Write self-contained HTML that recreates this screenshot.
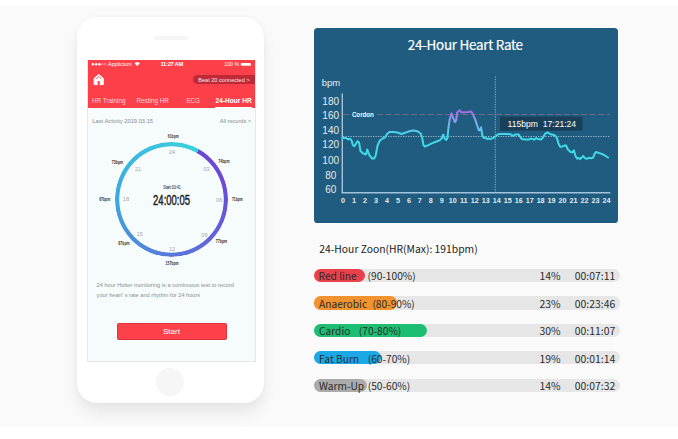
<!DOCTYPE html>
<html><head><meta charset="utf-8">
<style>
*{margin:0;padding:0;box-sizing:border-box}
html,body{width:678px;height:439px;overflow:hidden;background:#fff}
body{position:relative;font-family:"Liberation Sans",Arial,sans-serif}
.abs{position:absolute}
#bg{position:absolute;left:0;top:6px;width:678px;height:421.2px;background:#fafafa}
#phone{position:absolute;left:76.5px;top:17px;width:187.5px;height:385.5px;border-radius:20px;background:#fff;box-shadow:0 10px 15px rgba(0,0,0,0.08),0 0 5px rgba(0,0,0,0.035)}
#speaker{position:absolute;left:154px;top:36px;width:34px;height:3.8px;border-radius:1.9px;background:#f5f5f5}
#homebtn{position:absolute;left:156px;top:367.5px;width:28px;height:28px;border-radius:50%;background:#f6f6f6}
#screen{position:absolute;left:87.3px;top:60px;width:168.4px;height:301.6px;background:#f6fbfc;border:0.7px solid #e5e8ea;border-top:none}
#hdr{position:absolute;left:87.5px;top:60px;width:167.5px;height:48.3px;background:#fd3f49}
.sb{position:absolute;font-size:5.6px;color:#fff;line-height:6px;white-space:nowrap}
.tab{position:absolute;top:96.6px;font-size:6.35px;line-height:7px;white-space:nowrap;color:rgba(255,255,255,0.78)}
#chart{position:absolute;left:314px;top:28px;width:304px;height:194.5px;border-radius:3.6px;background:#1f5c7f}
.zt{position:absolute;font-family:"Liberation Sans","Noto Sans CJK SC",sans-serif;color:#333;white-space:nowrap}
.track{position:absolute;left:314.4px;width:305.3px;height:13.2px;border-radius:6.6px;background:#e6e6e6}
.pill{position:absolute;left:0;top:0;height:100%;border-radius:6.6px}
.ztxt{position:absolute;font-family:"Noto Sans CJK SC",sans-serif;font-size:10.2px;color:#2b2b2b;line-height:13.2px;top:0.45px;white-space:nowrap}
.num{font-size:10.4px}
</style></head>
<body>
<div id="bg"></div>
<div id="phone"></div>
<div id="speaker"></div>
<div id="homebtn"></div>
<div id="screen"></div>
<div id="hdr"></div>
<div class="abs" style="left:215.2px;top:107.4px;width:37px;height:1.1px;background:#fff"></div>
<svg class="abs" style="left:0;top:0" width="678" height="439" viewBox="0 0 678 439">
 <g fill="#fff"><circle cx="92.9" cy="64.3" r="1.25"/><circle cx="96.1" cy="64.3" r="1.25"/><circle cx="99.3" cy="64.3" r="1.25"/></g>
 <g fill="none" stroke="#fff" stroke-opacity="0.7" stroke-width="0.45"><circle cx="102.3" cy="64.3" r="1.0"/><circle cx="105.1" cy="64.3" r="1.0"/></g>
 <path d="M134.6 63.2 Q137.2 60.9 139.8 63.2 L137.2 66.3 Z" fill="#fff"/>
 <rect x="240.8" y="62.9" width="10" height="2.9" rx="0.8" fill="#fff"/>
 <path d="M98.7 74.4 L103.3 78.4 L103.3 84.6 L94.1 84.6 L94.1 78.4 Z" fill="#fff" stroke="#fff" stroke-width="0.9" stroke-linejoin="round"/>
 <path d="M96.2 78.7 L98.7 76.6 L101.2 78.7" fill="none" stroke="#fd3f49" stroke-width="0.85" stroke-linecap="round" stroke-linejoin="round"/>
 <rect x="97.6" y="80.9" width="2.2" height="4.2" rx="0.6" fill="#fd3f49"/>
</svg>
<div class="sb" style="left:108.1px;top:61.3px;font-size:5.45px">Applicium</div>
<div class="sb" style="left:160.5px;top:61.2px;font-weight:bold;font-size:5.75px;letter-spacing:-0.28px">11:27 AM</div>
<div class="sb" style="left:224.3px;top:61.2px;font-size:5.2px">100 %</div>
<div class="abs" style="left:192.6px;top:74.6px;width:62.4px;height:9.3px;border-radius:4.65px 0 0 4.65px;background:#bf2a38"></div>
<div class="sb" style="left:198.2px;top:76.8px;font-size:5.6px;color:#fbe3e5">Beat 20 connected &gt;</div>
<div class="tab" style="left:92px">HR Training</div>
<div class="tab" style="left:136.5px">Resting HR</div>
<div class="tab" style="left:186.5px;letter-spacing:-0.2px">ECG</div>
<div class="tab" style="left:215.6px;color:#fff;font-weight:bold;font-size:6.55px">24-Hour HR</div>
<div class="abs" style="left:92.3px;top:117.9px;font-size:5.75px;color:#8a8a8a;white-space:nowrap">Last Activity 2019.03.15</div>
<div class="abs" style="left:219.8px;top:118px;font-size:5.6px;color:#8a8a8a;white-space:nowrap">All records &gt;</div>
<div class="abs" style="left:96.6px;top:280.6px;width:150px;font-size:5.65px;line-height:9.9px;color:#8e8e8e;white-space:nowrap">24 hour Holter monitoring is a continuous test to record<br>your heart' s rate and rhythm for 24 hours</div>
<div class="abs" style="left:116.5px;top:322.8px;width:110px;height:17.2px;border-radius:1.5px;background:#fd414b;border:0.5px solid #e0343f;color:#fff;font-size:8.1px;text-align:center;line-height:16.6px">Start</div>
<!-- ring -->
<div class="abs" style="left:115.1px;top:142.4px;width:113.1px;height:114.9px;border-radius:50%;background:conic-gradient(from 28.6deg,#7046d2 0deg,#6a50d8 61deg,#5a78d8 151deg,#3aa8e0 241deg,#3cc8dc 331deg,#36d2dc 360deg);-webkit-mask:radial-gradient(closest-side,transparent 91.7%,#000 93.2%);mask:radial-gradient(closest-side,transparent 91.7%,#000 93.2%)"></div>
<svg class="abs" style="left:0;top:0" width="678" height="439" viewBox="0 0 678 439">
 <g font-family="Liberation Sans, sans-serif" font-size="5.6" fill="#a6a6a6" text-anchor="middle">
  <text x="172" y="153.5">24</text><text x="206.6" y="171.3">03</text><text x="219.2" y="201.6">06</text><text x="204.4" y="236.6">09</text>
  <text x="172" y="250.7">12</text><text x="139.8" y="235.7">15</text><text x="125.9" y="201.4">18</text><text x="138" y="170.9">21</text>
 </g>
 <g font-family="Liberation Sans, sans-serif" font-size="4.6" font-weight="bold" fill="#333" text-anchor="middle">
  <text x="173.3" y="138.1" textLength="11" lengthAdjust="spacingAndGlyphs">61bpm</text>
  <text x="223.9" y="163" textLength="11.3" lengthAdjust="spacingAndGlyphs">74bpm</text>
  <text x="237.4" y="201.2" textLength="10.9" lengthAdjust="spacingAndGlyphs">71bpm</text>
  <text x="221.5" y="243" textLength="11.3" lengthAdjust="spacingAndGlyphs">77bpm</text>
  <text x="172.1" y="264.9" textLength="13.2" lengthAdjust="spacingAndGlyphs">157bpm</text>
  <text x="124" y="244.9" textLength="11.3" lengthAdjust="spacingAndGlyphs">87bpm</text>
  <text x="104.7" y="201" textLength="11.1" lengthAdjust="spacingAndGlyphs">67bpm</text>
  <text x="117.5" y="164" textLength="11.3" lengthAdjust="spacingAndGlyphs">73bpm</text>
 </g>
 <text x="172" y="189.1" font-family="Liberation Sans, sans-serif" font-size="4.6" fill="#333" stroke="#333" stroke-width="0.08" text-anchor="middle" textLength="17.5" lengthAdjust="spacingAndGlyphs">Start 03:41</text>
 <text x="171.55" y="204.7" font-family="Liberation Sans, sans-serif" font-size="14.3" fill="#222" stroke="#222" stroke-width="0.45" text-anchor="middle" textLength="36.9" lengthAdjust="spacingAndGlyphs">24:00:05</text>
</svg>
<div id="chart"></div>
<svg class="abs" style="left:0;top:0" width="678" height="439" viewBox="0 0 678 439">
<defs><linearGradient id="lg" gradientUnits="userSpaceOnUse" x1="0" y1="140" x2="0" y2="110">
<stop offset="0" stop-color="#40d8e6"/><stop offset="0.233" stop-color="#44d4ea"/><stop offset="0.367" stop-color="#6cbcf0"/><stop offset="0.633" stop-color="#8aa0ea"/><stop offset="0.8" stop-color="#9486e4"/><stop offset="0.967" stop-color="#a46ce0"/></linearGradient></defs>
<text x="465.3" y="49.8" fill="#fff" text-anchor="middle" font-family="Noto Sans CJK SC, sans-serif" font-size="13.4" letter-spacing="-0.25" stroke="#fff" stroke-width="0.2">24-Hour Heart Rate</text>
<text x="321.8" y="85.7" fill="#e8eef4" font-family="Liberation Sans, sans-serif" font-size="9.5">bpm</text>
<g fill="#e4ecf2" font-family="Liberation Sans, sans-serif" font-size="10" text-anchor="middle">
<text x="330.7" y="104.6">180</text><text x="330.7" y="119.4">160</text><text x="330.7" y="134.1">140</text><text x="330.7" y="148.3">120</text><text x="330.7" y="163.5">100</text><text x="330.7" y="178.7">80</text><text x="330.7" y="193.3">60</text></g>
<line x1="342.3" y1="93.6" x2="342.3" y2="193" stroke="#a2c2de" stroke-width="1.4"/>
<line x1="341.7" y1="192.8" x2="610.3" y2="192.8" stroke="#a2c2de" stroke-width="1.4"/>
<line x1="343" y1="114.5" x2="610" y2="114.5" stroke="#b87890" stroke-opacity="0.7" stroke-width="0.75" stroke-dasharray="6 2.5"/>
<line x1="343" y1="136.5" x2="610" y2="136.5" stroke="#bccddb" stroke-width="0.75" stroke-dasharray="1.3 1.2"/>
<line x1="495.3" y1="76.4" x2="495.3" y2="192.5" stroke="#bccddb" stroke-width="0.75" stroke-dasharray="1.3 1.2"/>
<rect x="350.5" y="111" width="25" height="7" fill="#1f5c7f"/><text x="351.9" y="116.8" fill="#f4f8fb" font-family="Liberation Sans, sans-serif" font-weight="bold" font-size="6.5" textLength="22" lengthAdjust="spacingAndGlyphs">Cordon</text>
<polyline points="342.5,138 346.2,138 348.2,139.4 350.3,138.7 351.6,140.8 353,145.3 354.4,146.2 355.7,144.2 357.5,141.2 359.1,142.8 360.5,151 363.2,153.5 366,154.4 367.3,149.6 369.4,155.1 372.1,158.5 374.2,158.5 375.8,155.1 377.6,145.5 379.6,140.8 382.4,138.7 385.1,137.3 387.2,133.9 389.2,132.1 393.3,131.9 397.4,132.6 401.5,133.9 405.6,132.6 409.1,131.2 413.2,130.4 417.3,131.2 420.7,133.5 422.1,137.6 423.5,145.1 424.8,146.5 428.2,145.1 432.3,143.1 437.8,141 439.6,140.4 441.8,138.2 443.2,134.7 444.7,138.7 446.4,139.9 447.5,137.6 448.4,128.5 449.6,119.9 451.5,113.4 453.2,118.2 454.9,122.2 456.1,120.5 457.2,112.5 459.5,110.3 461.8,112.5 464.6,112.2 468,112 470.9,111.4 472.6,113.7 474.9,118.8 477.1,125.1 478.8,130.2 480,130.2 481.1,127.3 482.3,135.3 484.1,138.1 485.7,137.6 487.2,139.1 488.8,138.4 490.3,139.1 492.9,138.1 495.5,136.5 498.1,134.2 500.6,133.9 503.7,133.9 506.8,133.9 510.5,134.2 513,136 515.1,134.5 518.7,134.5 520.3,137 521.8,139.1 525.4,139.4 528.5,139.6 531.6,138.6 534.2,139.6 536.3,138.1 538.3,139.1 540.9,139.6 543,137.6 545,133.9 547.6,132.4 550.7,134.3 554.8,135.3 556.9,137.9 558.4,143.1 560,146.7 562,146.7 564.1,145.6 566.2,145.6 567.7,149.3 570.3,151.8 572.4,152.4 573.9,150.3 575.5,156 577,158.6 578.6,158 580.1,159.1 581.7,157.5 583.2,156 584.7,158 586.8,158.9 588.9,157.8 590.9,158.2 593,157.8 594.6,153.9 596.1,152 598.7,152.9 601.8,153.9 604.9,155.5 608,157.5" fill="none" stroke="url(#lg)" stroke-width="2.05" stroke-linejoin="round" stroke-linecap="round"/>
<rect x="500" y="116.6" width="82.4" height="14.1" fill="#1a3f59"/>
<text x="507.5" y="127.2" fill="#fff" font-family="Liberation Sans, sans-serif" font-size="8.6" xml:space="preserve">115bpm  17:21:24</text>
<g fill="#e4ecf2" font-family="Liberation Sans, sans-serif" font-size="7.2" font-weight="bold" text-anchor="middle"><text x="343.00" y="203.2">0</text><text x="353.98" y="203.2">1</text><text x="364.96" y="203.2">2</text><text x="375.94" y="203.2">3</text><text x="386.92" y="203.2">4</text><text x="397.90" y="203.2">5</text><text x="408.88" y="203.2">6</text><text x="419.86" y="203.2">7</text><text x="430.84" y="203.2">8</text><text x="441.82" y="203.2">9</text><text x="452.80" y="203.2">10</text><text x="463.78" y="203.2">11</text><text x="474.76" y="203.2">12</text><text x="485.74" y="203.2">13</text><text x="496.72" y="203.2">14</text><text x="507.70" y="203.2">15</text><text x="518.68" y="203.2">16</text><text x="529.66" y="203.2">17</text><text x="540.64" y="203.2">18</text><text x="551.62" y="203.2">19</text><text x="562.60" y="203.2">20</text><text x="573.58" y="203.2">21</text><text x="584.56" y="203.2">22</text><text x="595.54" y="203.2">23</text><text x="606.52" y="203.2">24</text></g>
</svg>

<!-- zones -->
<div class="zt" style="left:319.3px;top:240.8px;font-family:'Noto Sans CJK SC',sans-serif;font-size:10.33px;color:#222">24-Hour Zoon(HR(Max): 191bpm)</div>

<div class="track" style="top:269.0px"><div class="pill" style="width:51.1px;background:#e8414c"></div>
 <div class="ztxt" style="left:4.2px">Red line</div><div class="ztxt" style="left:53.2px">(90-100%)</div>
 <div class="ztxt num" style="left:225.2px">14%</div><div class="ztxt num" style="left:260.4px">00:07:11</div></div>
<div class="track" style="top:296.4px"><div class="pill" style="width:83.1px;background:#f39330"></div>
 <div class="ztxt" style="left:4.6px">Anaerobic</div><div class="ztxt" style="left:58.0px">(80-90%)</div>
 <div class="ztxt num" style="left:225.2px">23%</div><div class="ztxt num" style="left:260.4px">00:23:46</div></div>
<div class="track" style="top:323.75px"><div class="pill" style="width:112.3px;background:#1ebe72"></div>
 <div class="ztxt" style="left:4.6px">Cardio</div><div class="ztxt" style="left:44.4px">(70-80%)</div>
 <div class="ztxt num" style="left:225.2px">30%</div><div class="ztxt num" style="left:260.4px">00:11:07</div></div>
<div class="track" style="top:351.15px"><div class="pill" style="width:66.9px;background:#1aa9e6"></div>
 <div class="ztxt" style="left:4.7px">Fat Burn</div><div class="ztxt" style="left:53.3px">(60-70%)</div>
 <div class="ztxt num" style="left:225.2px">19%</div><div class="ztxt num" style="left:260.4px">00:01:14</div></div>
<div class="track" style="top:378.55px"><div class="pill" style="width:52.6px;background:#ababab"></div>
 <div class="ztxt" style="left:4.7px">Warm-Up</div><div class="ztxt" style="left:53.3px">(50-60%)</div>
 <div class="ztxt num" style="left:225.2px">14%</div><div class="ztxt num" style="left:260.4px">00:07:32</div></div>

</body></html>
